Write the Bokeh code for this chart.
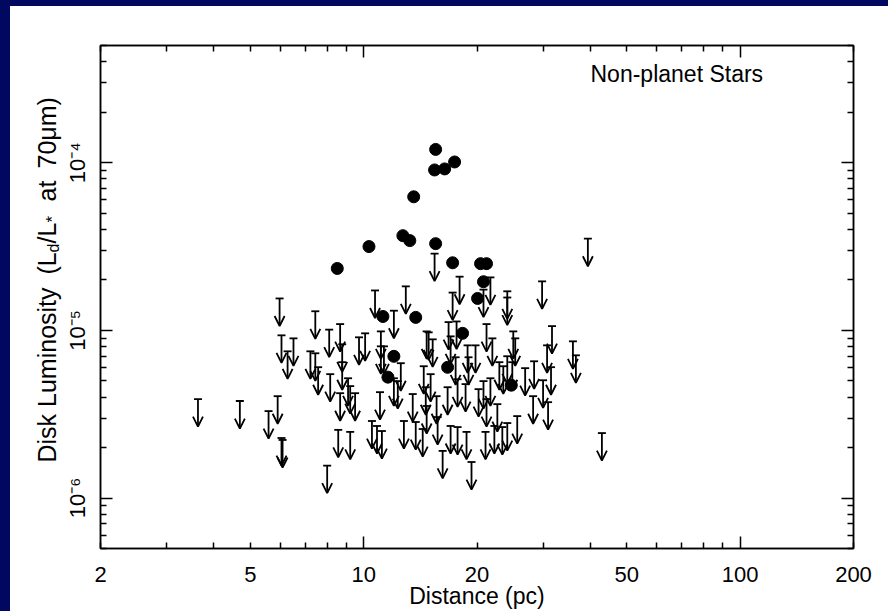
import math
from bokeh.plotting import figure
from bokeh.models import (LinearAxis, FixedTicker, CustomJSTickFormatter, Arrow, OpenHead,
                          TeeHead, ColumnDataSource, Label, Spacer, Range1d)
from bokeh.layouts import row, column
from bokeh.embed import file_html
from bokeh.resources import INLINE

NAVY = "#010860"
FONT = "Liberation Sans"

# ---- data: detections (filled circles) ----
det_dist = [15.53, 15.43, 16.41, 17.44, 13.58, 10.33, 12.71, 13.26, 15.53, 17.23, 20.44,
            21.20, 20.81, 20.07, 8.51, 11.25, 13.75, 18.31, 12.03, 11.60, 16.71, 24.67]
det_lum = [1.20e-4, 9.05e-5, 9.18e-5, 1.01e-4, 6.26e-5, 3.16e-5, 3.67e-5, 3.43e-5, 3.29e-5,
           2.53e-5, 2.50e-5, 2.50e-5, 1.95e-5, 1.55e-5, 2.34e-5, 1.21e-5, 1.195e-5, 9.6e-6,
           7.0e-6, 5.26e-6, 6.02e-6, 4.71e-6]

# ---- data: upper limits (arrows) ----
lim_dist = [3.63, 4.69, 5.59, 5.91, 6.05, 6.09, 5.98, 7.44, 6.05, 6.51, 6.28, 7.22, 7.44, 7.57,
            8.10, 8.66, 8.77, 9.72, 10.09, 11.11, 11.11, 11.32, 8.15, 8.77, 9.09, 9.49, 8.66,
            9.21, 11.05, 8.56, 9.21, 10.52, 10.85, 11.18, 8.00, 12.32, 10.72, 12.03, 12.94,
            15.43, 17.23, 17.98, 21.71, 20.81, 24.07, 24.07, 29.78, 39.40, 16.81, 17.65, 21.20,
            24.97, 31.64, 35.96, 36.62, 14.70, 14.88, 15.25, 17.02, 17.55, 18.88, 19.82, 18.99,
            21.97, 25.27, 30.70, 22.93, 24.07, 24.82, 23.49, 26.85, 28.36, 29.96, 31.45, 28.19,
            30.89, 25.58, 24.07, 23.35, 22.24, 22.65, 21.20, 20.81, 20.19, 18.65, 17.76, 16.71,
            17.02, 17.76, 18.76, 21.07, 16.21, 19.34, 42.93, 14.44, 15.06, 14.62, 15.62, 14.70,
            15.72, 14.35, 13.75, 12.79, 13.50, 12.55, 12.03, 21.71]
lim_lum = [3.89e-6, 3.79e-6, 3.30e-6, 4.05e-6, 2.28e-6, 2.22e-6, 1.55e-5, 1.30e-5, 9.34e-6,
           8.96e-6, 7.50e-6, 7.50e-6, 7.30e-6, 6.03e-6, 1.01e-5, 1.09e-5, 8.26e-6, 9.09e-6,
           9.60e-6, 9.86e-6, 8.03e-6, 8.03e-6, 5.48e-6, 6.46e-6, 5.18e-6, 4.22e-6, 4.22e-6,
           4.65e-6, 4.28e-6, 2.55e-6, 2.48e-6, 2.88e-6, 2.69e-6, 2.51e-6, 1.56e-6, 4.98e-6,
           1.73e-5, 1.31e-5, 1.83e-5, 2.87e-5, 1.68e-5, 2.09e-5, 2.07e-5, 1.75e-5, 1.71e-5,
           1.57e-5, 1.96e-5, 3.52e-5, 1.12e-5, 1.13e-5, 1.09e-5, 9.86e-6, 1.06e-5, 8.60e-6,
           7.10e-6, 9.86e-6, 9.73e-6, 8.84e-6, 9.21e-6, 6.91e-6, 8.14e-6, 8.14e-6, 6.91e-6,
           8.96e-6, 8.96e-6, 8.14e-6, 6.46e-6, 7.01e-6, 6.46e-6, 6.11e-6, 5.95e-6, 6.54e-6,
           5.04e-6, 6.03e-6, 4.05e-6, 3.73e-6, 3.08e-6, 2.80e-6, 2.65e-6, 2.69e-6, 3.63e-6,
           3.89e-6, 4.98e-6, 4.46e-6, 4.78e-6, 5.11e-6, 4.58e-6, 2.69e-6, 2.65e-6, 2.48e-6,
           2.48e-6, 1.91e-6, 1.64e-6, 2.44e-6, 6.11e-6, 5.48e-6, 4.58e-6, 4.05e-6, 3.54e-6,
           3.04e-6, 2.58e-6, 2.84e-6, 2.88e-6, 4.17e-6, 6.37e-6, 5.18e-6, 5.18e-6]

# ---- axes ticks / labels ----
x_range = (2, 200)
y_range = (5e-7, 5e-4)
x_label_ticks = [2, 5, 10, 20, 50, 100, 200]
x_major_ticks = [10, 100]
x_minor_ticks = [2, 3, 4, 5, 6, 7, 8, 9, 20, 30, 40, 50, 60, 70, 80, 90, 200]
y_label_ticks = [1e-6, 1e-5, 1e-4]
y_major_ticks = [1e-6, 1e-5, 1e-4]
y_minor_ticks = [m * 10.0 ** k for k in (-7, -6, -5, -4) for m in range(2, 10)]

ARROW_FACTOR = 0.685  # arrow length (style), as a multiplicative step in log space

TW = 52  # width of the side panel holding the y title
p = figure(width=878 - TW, height=605, x_axis_type="log", y_axis_type="log",
           x_range=Range1d(*x_range), y_range=Range1d(*y_range),
           output_backend="svg", toolbar_location=None,
           min_border_left=88 - TW, min_border_right=35, min_border_top=39, min_border_bottom=61,
           background_fill_color="white", border_fill_color="white")
p.grid.visible = False
p.outline_line_color = "black"
p.outline_line_width = 1.5

blank = CustomJSTickFormatter(code='return "";')


def style_tick_axis(ax, major, minor):
    ax.ticker = FixedTicker(ticks=major, minor_ticks=minor)
    ax.formatter = blank
    ax.major_tick_in = 12
    ax.major_tick_out = 0
    ax.minor_tick_in = 6
    ax.minor_tick_out = 0
    ax.major_tick_line_width = 1.5
    ax.minor_tick_line_width = 1.5
    ax.major_tick_line_color = "black"
    ax.minor_tick_line_color = "black"
    ax.axis_line_color = "black"
    ax.axis_line_width = 1.5
    ax.major_label_text_font_size = "1px"
    ax.major_label_standoff = 0
    ax.axis_label = None


style_tick_axis(p.xaxis[0], x_major_ticks, x_minor_ticks)
style_tick_axis(p.yaxis[0], y_major_ticks, y_minor_ticks)
top = LinearAxis()
style_tick_axis(top, x_major_ticks, x_minor_ticks)
p.add_layout(top, "above")
right = LinearAxis()
style_tick_axis(right, y_major_ticks, y_minor_ticks)
p.add_layout(right, "right")

xlab = LinearAxis(ticker=FixedTicker(ticks=x_label_ticks), axis_label="Distance (pc)")
ylab = LinearAxis(ticker=FixedTicker(ticks=y_label_ticks),
                  formatter=CustomJSTickFormatter(code="""
const e = Math.round(Math.log10(tick));
const m = {"-":"\u207b","0":"\u2070","1":"\u00b9","2":"\u00b2","3":"\u00b3","4":"\u2074",
           "5":"\u2075","6":"\u2076","7":"\u2077","8":"\u2078","9":"\u2079"};
return "10" + String(e).split("").map(c => m[c]).join("");
"""))
for ax in (xlab, ylab):
    ax.major_tick_in = 0
    ax.major_tick_out = 0
    ax.minor_tick_in = 0
    ax.minor_tick_out = 0
    ax.axis_line_color = None
    ax.major_label_text_font = FONT
    ax.major_label_text_font_size = "22px"
    ax.major_label_text_color = "black"
    ax.axis_label_text_font = FONT
    ax.axis_label_text_font_size = "23px"
    ax.axis_label_text_font_style = "normal"
    ax.axis_label_text_color = "black"
xlab.major_label_standoff = 18
xlab.axis_label_standoff = -2
ylab.major_label_standoff = 10
ylab.major_label_orientation = "vertical"
p.add_layout(xlab, "below")
p.add_layout(ylab, "left")

# ---- marks ----
lim_src = ColumnDataSource(dict(x=lim_dist, y0=lim_lum,
                                y1=[v * ARROW_FACTOR for v in lim_lum]))
p.add_layout(Arrow(source=lim_src, x_start="x", y_start="y0", x_end="x", y_end="y1",
                   line_width=1.8, line_color="black",
                   start=TeeHead(size=8, line_width=1.8, line_color="black"),
                   end=OpenHead(size=10, line_width=1.8, line_color="black")))
p.scatter(det_dist, det_lum, size=12, marker="circle", color="black")

# ---- texts ----
p.add_layout(Label(x=580 - TW, y=67, x_units="canvas", y_units="canvas",
                   text="Non-planet Stars", text_font=FONT, text_font_size="23px",
                   text_baseline="middle", text_color="black"))

# side panel with the rotated y-axis title (pieces for the subscripts)
q = figure(width=TW, height=605, x_range=Range1d(0, TW), y_range=Range1d(605, 0),
           output_backend="svg", toolbar_location=None, min_border=0,
           background_fill_color="white", border_fill_color="white")
q.axis.visible = False
q.grid.visible = False
q.outline_line_color = None

ang = math.pi / 2
# (text, start position along the title [px from top], centre line [px from left], size)
pieces = [("Disk Luminosity", 456, 36, "25px"),
          ("(L", 268, 36, "25px"),
          ("d", 246, 43, "16px"),
          ("/L", 237, 36, "25px"),
          ("*", 216, 42, "17px"),
          ("at", 195, 36, "25px"),
          ("70\u03bcm)", 162, 36, "25px")]
for txt, yy, xx, fs in pieces:
    q.add_layout(Label(x=xx, y=yy, x_units="canvas", y_units="canvas", text=txt, angle=ang,
                       text_font=FONT, text_font_size=fs, text_align="left",
                       text_baseline="middle", text_color="black"))

layout = row(Spacer(width=10, height=611, styles={"background-color": NAVY}),
             column(Spacer(width=878, height=6, styles={"background-color": NAVY}),
                    row(q, p)))

open("out.html", "w").write(file_html(layout, INLINE))
